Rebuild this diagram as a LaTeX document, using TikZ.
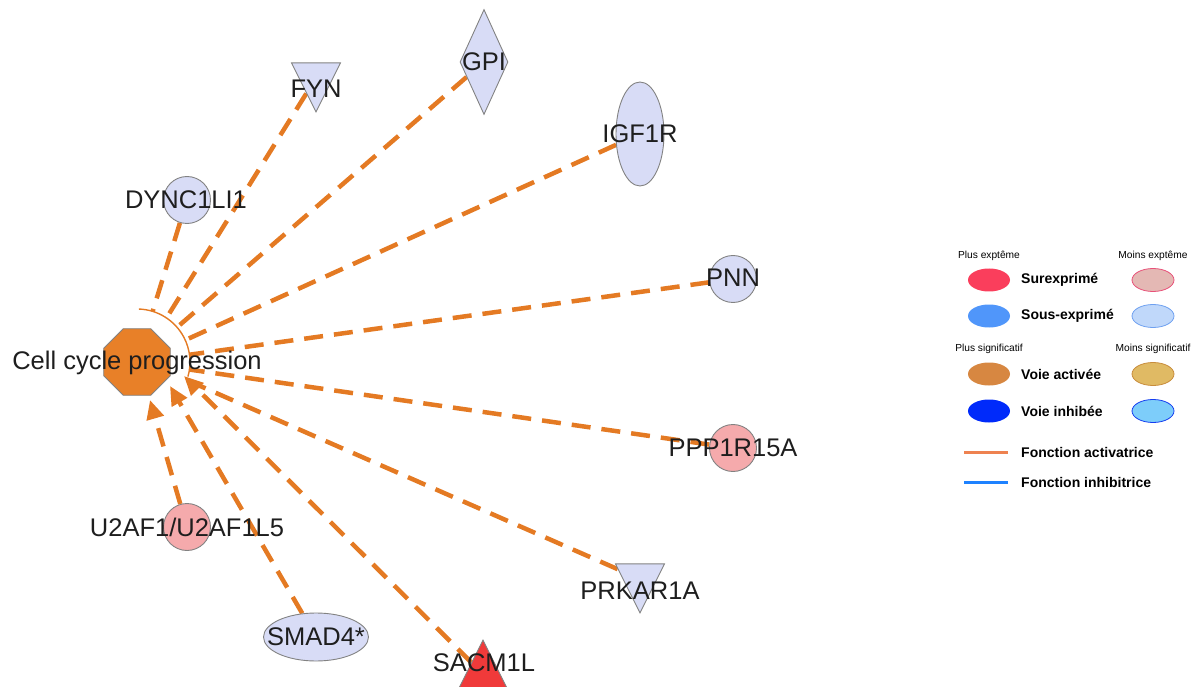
\documentclass[tikz,border=0pt]{standalone}
\usepackage{fontspec}
\setmainfont{Liberation Sans}
\usetikzlibrary{shapes.geometric,arrows.meta,backgrounds,calc}
\definecolor{edgeor}{RGB}{228,122,35}
\definecolor{octfill}{RGB}{232,128,40}
\definecolor{lav}{RGB}{216,220,246}
\definecolor{pinkf}{RGB}{245,170,172}
\definecolor{redf}{RGB}{240,58,58}
\definecolor{bord}{RGB}{130,130,130}
\definecolor{txt}{RGB}{30,30,30}
\definecolor{lgA}{RGB}{250,62,92}
\definecolor{lgAb}{RGB}{228,184,180}
\definecolor{lgAbd}{RGB}{232,80,120}
\definecolor{lgB}{RGB}{80,150,250}
\definecolor{lgBb}{RGB}{192,216,250}
\definecolor{lgBbd}{RGB}{110,160,240}
\definecolor{lgC}{RGB}{215,135,65}
\definecolor{lgCb}{RGB}{224,186,100}
\definecolor{lgCbd}{RGB}{200,140,60}
\definecolor{lgD}{RGB}{0,42,250}
\definecolor{lgDb}{RGB}{125,205,250}
\definecolor{lgDbd}{RGB}{20,60,240}
\definecolor{lnA}{RGB}{238,130,80}
\definecolor{lnB}{RGB}{30,130,255}
\begin{document}
\begin{tikzpicture}[x=1pt,y=-1pt,
  gene/.style={draw=bord, line width=0.9pt, fill=lav, inner sep=0pt},
  lbl/.style={text=txt, font=\fontsize{25.5}{30}\selectfont, inner sep=0pt},
  circ/.style={gene, circle, minimum size=47pt},
  tridown/.style={gene, isosceles triangle, isosceles triangle stretches, shape border rotate=-90, minimum width=49pt, minimum height=49pt, anchor=apex},
  triup/.style={gene, isosceles triangle, isosceles triangle stretches, shape border rotate=90, minimum width=49pt, minimum height=49pt, anchor=apex},
  link/.style={draw=edgeor, line width=4.5pt, dash pattern=on 19pt off 11pt},
  arr/.style={link, -{Triangle[length=19pt,width=17pt]}},
  hdr/.style={font=\fontsize{10.2}{12}\selectfont, inner sep=0pt},
  lgl/.style={font=\fontsize{14}{16}\bfseries\selectfont, anchor=west, inner sep=0pt},
  lge/.style={ellipse, minimum width=42pt, minimum height=23pt, inner sep=0pt, line width=0.8pt}
]
\useasboundingbox (0,0) rectangle (1200,687);

% central function node
\node[regular polygon, regular polygon sides=8, minimum size=72pt, inner sep=0pt, fill=octfill, draw=bord, line width=0.9pt] (ccp) at (137,362) {};

% genes
\node[circ] (dync) at (187,200) {};
\node[tridown] (fyn) at (316,113) {};
\node[gene, diamond, minimum width=48pt, minimum height=105pt] (gpi) at (484,62) {};
\node[gene, ellipse, minimum width=48pt, minimum height=104pt] (igf) at (640,134) {};
\node[circ] (pnn) at (733,279) {};
\node[circ, fill=pinkf] (ppp) at (733,448) {};
\node[tridown] (prk) at (640,614) {};
\node[triup, fill=redf] (sac) at (483,639) {};
\node[gene, ellipse, minimum width=105pt, minimum height=48pt] (smad) at (316,637) {};
\node[circ, fill=pinkf] (u2af) at (187,527) {};

% labels
\node[lbl] (lccp) at (137,363) {Cell cycle progression};
\node[lbl] (ldync) at (186,200) {DYNC1LI1};
\node[lbl] (lfyn) at (316,89) {FYN};
\node[lbl] (lgpi) at (484,62) {GPI};
\node[lbl] (ligf) at (640,134) {IGF1R};
\node[lbl] (lpnn) at (733,278) {PNN};
\node[lbl] (lppp) at (733,448) {PPP1R15A};
\node[lbl] (lprk) at (640,591) {PRKAR1A};
\node[lbl] (lsac) at (484,663) {SACM1L};
\node[lbl] (lsmad) at (316,637) {SMAD4*};
\node[lbl] (lu2af) at (187,527) {U2AF1/U2AF1L5};

% end points around the function node
\coordinate (ctr) at (137,362);
\coordinate (eDY) at ($(ctr)+(-72.8:53)$);
\coordinate (eFY) at ($(ctr)+(-56.2:53)$);
\coordinate (eGP) at ($(ctr)+(-40.9:53)$);
\coordinate (eIG) at ($(ctr)+(-24.4:53)$);
\coordinate (ePN) at ($(ctr)+(-7.9:53)$);
\coordinate (ePP) at ($(ctr)+(8.2:53)$);
\coordinate (ePR) at ($(ctr)+(20:53)$);
\coordinate (eU2) at (150,400);
\coordinate (eSM) at (170,386);
\coordinate (eSA) at (184,376);
\coordinate (arcS) at ($(ctr)+(-88:53)$);

\begin{scope}[on background layer]
  \draw[edgeor, line width=1.4pt] (arcS) arc[start angle=-88, end angle=16, radius=53];
  \draw[link] (dync) -- (eDY);
  \draw[link] (fyn) -- (eFY);
  \draw[link] (gpi) -- (eGP);
  \draw[link] (igf) -- (eIG);
  \draw[link] (pnn) -- (ePN);
  \draw[link] (ppp) -- (ePP);
  \draw[link] (prk) -- (ePR);
  \draw[arr] (sac) -- (eSA);
  \draw[arr] (smad) -- (eSM);
  \draw[arr] (u2af) -- (eU2);
\end{scope}

% legend
\node[hdr] (h1) at (989,256) {Plus exptême};
\node[hdr] (h2) at (1153,256) {Moins exptême};
\node[hdr] (h3) at (989,349) {Plus significatif};
\node[hdr] (h4) at (1153,349) {Moins significatif};
\node[lge, fill=lgA] (a1) at (989,280) {};
\node[lge, fill=lgAb, draw=lgAbd] (a2) at (1153,280) {};
\node[lge, fill=lgB] (b1) at (989,316) {};
\node[lge, fill=lgBb, draw=lgBbd] (b2) at (1153,316) {};
\node[lge, fill=lgC] (c1) at (989,374) {};
\node[lge, fill=lgCb, draw=lgCbd] (c2) at (1153,374) {};
\node[lge, fill=lgD] (d1) at (989,411) {};
\node[lge, fill=lgDb, draw=lgDbd] (d2) at (1153,411) {};
\node[lgl] (ta) at (1021,280) {Surexprimé};
\node[lgl] (tb) at (1021,316) {Sous-exprimé};
\node[lgl] (tc) at (1021,374) {Voie activée};
\node[lgl] (td) at (1021,411) {Voie inhibée};
\coordinate (la1) at (964,452);
\coordinate (la2) at (1008,452);
\coordinate (lb1) at (964,482);
\coordinate (lb2) at (1008,482);
\draw[lnA, line width=3pt] (la1) -- (la2);
\draw[lnB, line width=3pt] (lb1) -- (lb2);
\node[lgl] (te) at (1021,452) {Fonction activatrice};
\node[lgl] (tf) at (1021,482) {Fonction inhibitrice};
\end{tikzpicture}
\end{document}
